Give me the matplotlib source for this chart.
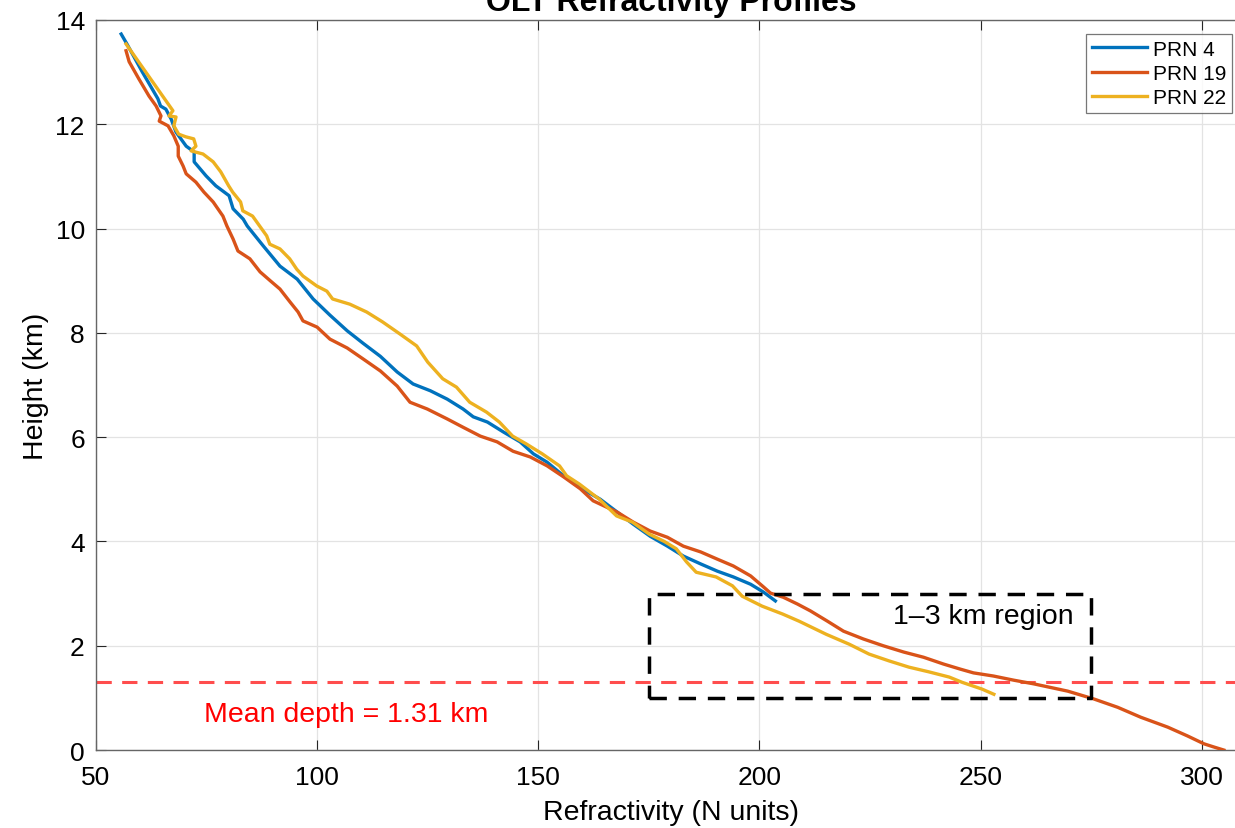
import numpy as np
import matplotlib
matplotlib.use('Agg')
import matplotlib.pyplot as plt

plt.rcParams['font.family'] = ['Liberation Sans', 'DejaVu Sans']

#
#  Profile data (refractivity N, height km).
#
blue_N = [55.7, 57.0, 60.5, 64.0, 64.6, 65.8, 67.0, 68.1, 70.4, 72.2, 72.2, 74.9,
          77.1, 80.1, 81.0, 83.3, 84.2, 87.8, 91.6, 95.5, 99.1, 102.9, 106.8, 110.4,
          114.3, 118.1, 121.7, 125.6, 129.4, 133.0, 135.3, 138.5, 142.1, 145.9, 148.9,
          152.0, 155.7, 159.5, 164.0, 167.9, 171.5, 175.3, 179.2, 182.8, 186.7, 190.5,
          194.1, 198.0, 200.9, 203.6]
blue_h = [13.73, 13.54, 13.0, 12.49, 12.35, 12.29, 12.10, 11.85, 11.58, 11.47, 11.28, 11.01,
          10.82, 10.63, 10.38, 10.18, 10.05, 9.67, 9.28, 9.03, 8.65, 8.34, 8.04, 7.80,
          7.55, 7.25, 7.02, 6.89, 6.73, 6.54, 6.39, 6.29, 6.10, 5.91, 5.68,
          5.52, 5.26, 5.03, 4.81, 4.56, 4.33, 4.10, 3.91, 3.72, 3.57, 3.43,
          3.32, 3.18, 3.03, 2.86]

orange_N = [56.8, 57.5, 59.7, 62.0, 63.6, 64.7, 64.3, 66.3, 67.6, 68.6, 68.6, 69.7, 70.4,
            72.6, 74.4, 76.5, 78.7, 79.6, 81.0, 82.1, 84.8, 87.1, 89.4, 91.6, 93.9, 95.7,
            96.8, 100.0, 102.9, 106.8, 110.4, 114.3, 118.1, 121.0, 124.9, 129.4, 133.0,
            136.9, 140.7, 144.3, 148.2, 152.0, 155.7, 159.5, 162.4, 167.9, 171.5, 175.3,
            179.2, 182.8, 186.7, 190.5, 194.1, 198.0, 200.9, 202.5, 205.4, 208.6, 211.5,
            215.4, 219.0, 223.5, 228.0, 232.6, 237.1, 241.6, 245.5, 248.4, 252.9, 257.5,
            262.0, 269.7, 275.6, 281.0, 286.2, 292.3, 296.8, 300.5, 302.7, 305.0]
orange_h = [13.41, 13.20, 12.87, 12.54, 12.35, 12.16, 12.06, 11.97, 11.78, 11.58, 11.39, 11.20, 11.05,
            10.89, 10.70, 10.51, 10.24, 10.05, 9.80, 9.57, 9.42, 9.17, 9.00, 8.84, 8.59, 8.40,
            8.23, 8.11, 7.88, 7.71, 7.50, 7.27, 6.98, 6.67, 6.54, 6.35, 6.19,
            6.02, 5.91, 5.73, 5.62, 5.45, 5.24, 5.01, 4.78, 4.56, 4.37, 4.20,
            4.08, 3.91, 3.80, 3.66, 3.53, 3.34, 3.13, 3.01, 2.93, 2.80, 2.67,
            2.47, 2.28, 2.13, 2.00, 1.88, 1.78, 1.65, 1.55, 1.48, 1.42, 1.34,
            1.27, 1.13, 0.98, 0.82, 0.63, 0.44, 0.27, 0.12, 0.06, 0.0]

yellow_N = [56.8, 67.4, 66.5, 68.1, 67.6, 68.7, 70.3, 72.1, 72.6, 71.5, 74.2, 76.5, 78.2,
            80.0, 80.9, 82.7, 83.2, 85.4, 87.0, 88.6, 89.3, 91.6, 93.8, 95.4, 96.8, 99.9,
            102.2, 103.5, 107.4, 111.2, 114.8, 118.7, 122.5, 125.0, 128.4, 131.5, 134.5,
            138.3, 141.2, 144.2, 147.3, 150.9, 154.8, 156.4, 159.3, 163.8, 167.7, 171.3,
            175.1, 178.5, 181.2, 183.5, 185.7, 190.2, 193.9, 196.1, 200.6, 205.2, 209.0,
            215.1, 220.3, 224.8, 229.3, 233.8, 238.3, 242.9, 245.8, 250.3, 253.0]
yellow_h = [13.54, 12.26, 12.16, 12.14, 11.97, 11.81, 11.76, 11.72, 11.58, 11.49, 11.43, 11.28, 11.09,
            10.82, 10.70, 10.51, 10.34, 10.24, 10.05, 9.86, 9.70, 9.61, 9.42, 9.22, 9.09, 8.90,
            8.80, 8.65, 8.55, 8.40, 8.21, 7.98, 7.75, 7.44, 7.12, 6.96, 6.67,
            6.48, 6.29, 6.02, 5.87, 5.68, 5.45, 5.26, 5.10, 4.81, 4.49, 4.37,
            4.14, 4.0, 3.86, 3.61, 3.41, 3.32, 3.15, 2.95, 2.76, 2.61, 2.47,
            2.22, 2.03, 1.84, 1.71, 1.59, 1.50, 1.40, 1.30, 1.17, 1.07]

labels = ['PRN 4', 'PRN 19', 'PRN 22']
mean_depth = 1.31
region_N = [175, 275]
region_h = [1, 3]


#
#  Plot.  The axes run a little past the right edge of the picture,
#  as in the cropped original.
#
fig = plt.figure(figsize=(12.35, 8.29), dpi=100)
ax = fig.add_axes([0.0777, 0.094, 0.9312, 0.8807])

ax.plot(blue_N, blue_h, color='#0072BD', lw=2.4, label=labels[0], zorder=3)
ax.plot(orange_N, orange_h, color='#D95319', lw=2.4, label=labels[1], zorder=3)
ax.plot(yellow_N, yellow_h, color='#EDB120', lw=2.4, label=labels[2], zorder=3)

ax.axhline(mean_depth, color='#FF4D4D', lw=2.2, ls=(0, (5, 3.4)), zorder=2)
ax.text(74.5, 0.69, f'Mean depth = {mean_depth:.2f} km', color='red',
        fontsize=20.5, va='center', ha='left')

x0, x1 = region_N
y0, y1 = region_h
ax.plot([x0, x1, x1, x0, x0], [y0, y0, y1, y1, y0], color='black', lw=2.5,
        ls=(0, (5, 3.4)), zorder=4)
ax.text(230.3, 2.57, '1\u20133 km region', color='black', fontsize=20.5,
        va='center', ha='left')

ax.set_xlim(50, 310)
ax.set_ylim(0, 14)
ax.set_xticks([50, 100, 150, 200, 250, 300])
ax.set_yticks(np.arange(0, 15, 2))
ax.tick_params(direction='in', labelsize=19, length=7, width=0.8, color='#262626',
               top=True, right=True)
ax.tick_params(axis='x', pad=11)
ax.tick_params(axis='y', pad=8)
for s in ax.spines.values():
    s.set_color('#666666')
    s.set_linewidth(1.0)
ax.grid(True, color='#e3e3e3', lw=0.9)
ax.set_axisbelow(True)

ax.set_xlabel('Refractivity (N units)', fontsize=20.5, labelpad=7)
ax.set_ylabel('Height (km)', fontsize=20.5, labelpad=5)
ax.set_title('OLT Refractivity Profiles', fontsize=23, fontweight='bold', pad=7)

leg = ax.legend(loc='upper right', fontsize=15, frameon=True, fancybox=False,
                borderaxespad=0.65, handlelength=2.6, handletextpad=0.3,
                labelspacing=0.25, borderpad=0.3)
leg.get_frame().set_edgecolor('#555555')
leg.get_frame().set_linewidth(0.9)

fig.savefig('out.png', dpi=100)
